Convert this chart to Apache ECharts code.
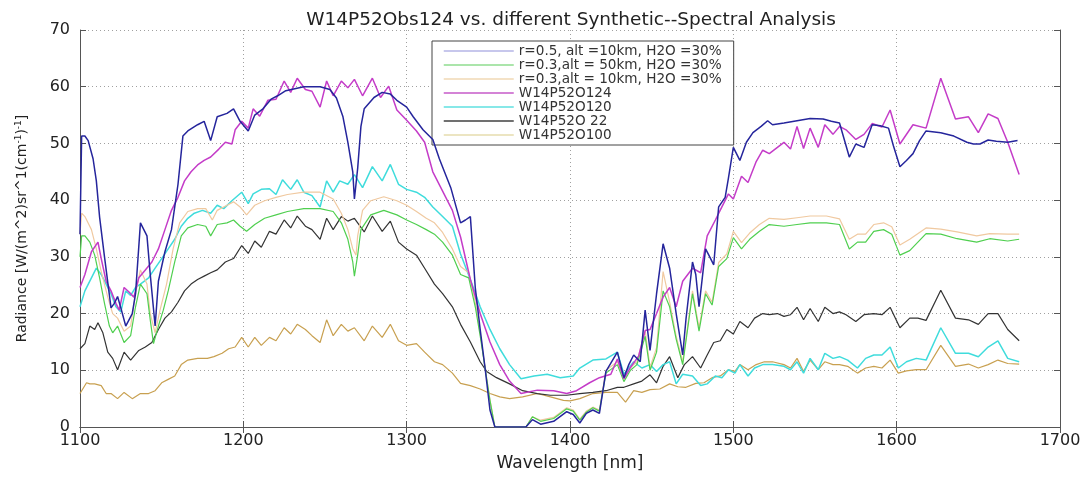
<!DOCTYPE html>
<html>
<head>
<meta charset="utf-8">
<script src="https://cdn.jsdelivr.net/npm/echarts@6/dist/echarts.min.js"></script>
<style>html,body{margin:0;padding:0;background:#fff;}#c{width:1089px;height:477px;}</style>
</head>
<body>
<div id="c"></div>
<script>
// ---- tick labels / axis ranges ----
const xTicks = [1100, 1200, 1300, 1400, 1500, 1600, 1700];
const yTicks = [0, 10, 20, 30, 40, 50, 60, 70];
const seriesNames = [
  'r=0.5, alt =10km, H2O =30%',
  'r=0.3,alt = 50km, H2O =30%',
  'r=0.3,alt = 10km, H2O =30%',
  'W14P52O124',
  'W14P52O120',
  'W14P52O 22',
  'W14P52O100'
];

// ---- r=0.5, alt=10km synthetic ----
const synA_x = [1100,1101,1103,1105,1108,1110,1112,1115,1119,1121,1123,1125,1128,1132,1134,1137,1141,1143,1146,1148,1152,1156,1160,1163,1166,1172,1176,1180,1184,1190,1194,1198,1203,1207,1212,1217,1221,1226,1237,1247,1253,1257,1261,1264,1267,1268,1270,1272,1274,1280,1285,1290,1294,1300,1304,1310,1316,1320,1327,1333,1336,1339,1342,1345,1348,1351,1354,1363,1373,1377,1382,1390,1398,1402,1406,1410,1414,1418,1422,1429,1433,1436,1439,1443,1446,1449,1453,1457,1461,1465,1469,1471,1475,1477,1479,1483,1485,1488,1491,1495,1497,1500,1504,1508,1512,1517,1521,1524,1531,1539,1547,1555,1560,1565,1571,1575,1580,1585,1590,1595,1598,1602,1606,1610,1614,1618,1627,1635,1643,1647,1651,1656,1661,1668,1674];
const synA_y = [34,51.3,51.3,50.5,47.3,43.4,37,30,21,21.8,23,21,17.8,20,23.5,36,33.7,26.9,17.8,25.7,30.9,34.8,42.8,51.3,52.2,53.3,53.9,50.5,54.7,55.3,56.1,53.9,52.2,55,56.1,57.8,58.4,59.3,60,60,59.5,58,54.7,50.2,45,40.2,45.6,53,56.1,58.1,59,58.7,57.6,56.4,54.7,52.4,50.7,47.3,42.2,36,36.5,37.1,24.6,17.2,10.4,3,0,0,0,1.3,0.5,1,2.7,2.2,0.7,2.4,3,2.4,9.8,13.2,8.7,11,12.7,11.5,20.6,13.5,23.5,32.3,28,20,12.7,19,29.1,26.9,21.2,31.4,30.3,28.6,38.8,40.5,43.9,49.3,47,50.2,51.9,53,54,53.3,53.6,54,54.4,54.3,53.9,53.6,47.6,49.9,49.3,53.3,53.1,52.7,49.6,45.9,47,48.2,50.5,52.2,51.9,51.3,50.2,49.9,49.9,50.6,50.4,50.2,50.5];

// ---- r=0.3, alt=50km synthetic ----
const synB_x = [1100,1101,1103,1106,1109,1112,1115,1118,1120,1123,1127,1131,1134,1137,1141,1143,1145,1148,1151,1154,1158,1162,1166,1172,1177,1180,1184,1190,1194,1198,1202,1207,1213,1220,1227,1237,1247,1255,1260,1264,1267,1268,1270,1272,1278,1286,1294,1300,1306,1312,1317,1322,1328,1333,1338,1342,1345,1348,1351,1354,1363,1373,1377,1382,1390,1398,1402,1406,1410,1414,1418,1422,1429,1433,1437,1441,1446,1449,1453,1457,1461,1465,1469,1475,1479,1483,1487,1491,1496,1500,1505,1510,1516,1522,1531,1539,1547,1557,1565,1571,1576,1581,1586,1592,1597,1602,1608,1618,1627,1637,1649,1657,1668,1675];
const synB_y = [30,33.7,33.7,32.6,30.3,26.3,21.8,17.8,16.6,17.8,14.9,16.1,21.2,25.2,23.5,18.9,14.7,17.8,20.6,24,29.1,33.7,35.1,35.7,35.4,33.7,35.7,36,36.5,35.4,34.5,35.7,36.8,37.4,38,38.5,38.5,38,36,33.1,29.1,26.6,30.3,34.8,37.4,38.2,37.4,36.5,35.7,34.8,34,32.6,30.3,26.9,26.3,21.2,16.1,10.4,4.7,0,0,0,1.8,1,1.5,3.2,2.8,1.2,2.6,3.4,2.8,9.5,11,8,10,11,16,10,13.2,24,21.2,15.5,11,23.5,16.9,23.5,21.5,28.3,29.7,33.4,31.4,33.1,34.5,35.7,35.4,35.7,36,36,35.7,31.4,32.6,32.6,34.5,34.8,34,30.3,31.1,34.1,34,33.2,32.6,33.2,32.8,33.1];

// ---- r=0.3, alt=10km synthetic ----
const synC_x = [1100,1101,1103,1107,1110,1113,1117,1120,1123,1127,1131,1134,1137,1141,1143,1146,1149,1153,1157,1161,1166,1172,1177,1181,1184,1190,1194,1198,1202,1207,1213,1220,1227,1237,1247,1255,1260,1264,1267,1269,1270,1273,1278,1286,1294,1300,1306,1312,1317,1322,1328,1333,1338,1342,1345,1348,1351,1354,1363,1373,1377,1382,1390,1398,1402,1406,1410,1414,1418,1422,1429,1433,1437,1441,1446,1449,1453,1457,1461,1465,1469,1475,1479,1483,1487,1491,1496,1500,1505,1510,1516,1522,1531,1539,1547,1557,1565,1571,1576,1581,1586,1592,1597,1602,1608,1618,1627,1637,1649,1657,1668,1675];
const synC_y = [34,37.7,37.1,34.8,31.4,27.4,22.9,20,19.2,16.9,17.8,23.5,27.7,25.2,20,16.6,20.6,25.2,31.4,36,38,38.5,38.5,36.5,38.2,39.1,39.7,38.8,37.4,39.1,39.9,40.5,41,41.4,41.4,40.2,37.7,34.8,31.4,30.3,33.7,38.2,39.9,40.6,39.9,39.1,38,36.8,36,34.3,31.4,28.3,27.2,22,16.5,10.5,4.8,0,0,0,1.8,1.2,1.7,3.4,3,1.4,2.8,3.5,3,10,11.5,8.5,10.5,11.5,17,10.5,14,27.4,22,16,11.5,24,17.5,24,22,29,30.5,34.5,32.5,34.2,35.7,36.8,36.6,36.9,37.2,37.2,36.7,33.1,34,34,35.7,36,35.3,32.1,33.1,35.1,34.9,34.4,33.7,34.1,34,34];

// ---- W14P52O124 ----
const o124_x = [1100,1103,1107,1111,1113,1116,1119,1122,1124,1127,1130,1133,1136,1140,1144,1148,1152,1156,1160,1164,1168,1172,1176,1180,1185,1189,1193,1195,1199,1203,1206,1210,1215,1220,1225,1229,1233,1238,1242,1247,1251,1255,1260,1264,1268,1273,1279,1284,1289,1294,1300,1306,1311,1316,1322,1328,1333,1339,1345,1351,1357,1363,1370,1380,1390,1398,1404,1412,1418,1425,1429,1433,1437,1442,1446,1449,1453,1457,1461,1465,1469,1475,1480,1484,1489,1493,1497,1500,1505,1509,1514,1518,1522,1527,1531,1535,1539,1543,1547,1552,1556,1561,1565,1569,1575,1580,1585,1591,1596,1602,1610,1618,1627,1636,1644,1650,1656,1662,1668,1675];
const o124_y = [24.6,26.9,30.9,32.6,29.7,25.7,24,21.8,20.6,24.6,23.8,22.9,26.3,27.7,29.1,31.4,34.8,38.2,40.5,43.4,45,46.2,47,47.6,49,50.2,49.9,52.4,53.9,52.7,56.1,54.8,57.6,57.8,61,59,61.5,59.5,59.2,56.4,61,58.4,61,59.8,61.3,58.4,61.5,58.1,60.1,55.9,54.1,52.2,50.2,45,41.6,38.2,33.5,26,20,15,11,8.1,5.9,6.5,6.4,5.9,6.4,7.8,8.7,9.3,12,8.5,10.5,12.5,17,17.2,20,22.9,24.6,21.2,25.7,28,27.2,33.7,36.5,38.8,41.1,40.2,44.2,43.1,46.8,48.8,48.2,49.3,50.2,49,53,49.1,52.7,49.3,53.3,51.6,53,52.4,50.7,51.6,53.5,52.9,55.9,49.9,53.3,52.7,61.5,54.3,54.7,51.9,55.2,54.4,50.2,44.5];

// ---- W14P52O120 ----
const o120_x = [1100,1103,1107,1110,1113,1116,1119,1122,1125,1128,1131,1134,1137,1142,1146,1150,1154,1158,1162,1166,1170,1175,1180,1184,1188,1193,1199,1203,1206,1211,1216,1220,1224,1229,1233,1237,1242,1247,1251,1255,1259,1264,1268,1273,1279,1285,1290,1295,1300,1306,1311,1316,1322,1328,1333,1339,1345,1351,1357,1363,1370,1378,1386,1394,1402,1406,1414,1422,1429,1433,1439,1444,1449,1453,1457,1461,1465,1469,1475,1480,1484,1489,1493,1497,1501,1504,1509,1513,1518,1524,1531,1535,1539,1543,1547,1552,1556,1561,1565,1570,1576,1581,1586,1591,1596,1601,1606,1612,1618,1627,1636,1644,1650,1656,1662,1668,1675];
const o120_y = [21.2,24,26.3,28,26.9,25.2,23.5,21.2,20.3,24,23.2,24.6,25.2,26.3,28,29.7,31.4,33.1,35.4,36.8,37.7,38.2,37.7,39.1,38.5,39.9,41.4,39.4,41.1,41.9,42,41,43.6,41.9,43.6,41.4,40.8,38.8,43.4,41.4,43.4,42.8,44.5,42.2,45.9,43.4,46.3,42.8,41.9,41.4,40.5,38.8,37.1,35.4,30.5,26,21.2,17.2,13.8,11,8.5,9,9.3,8.7,9,10.4,11.8,12,13.2,9.3,11.5,10.4,11,9.8,11,11.5,7.6,9.3,9,7.3,7.6,9,8.7,10.1,9.5,11,9,10.4,11,11,10.7,10.1,11.5,9.5,12.1,10.1,13,12.1,12.4,11.8,10.4,12.1,12.7,12.7,14.1,10.4,11.5,12.1,11.8,17.5,13,13,12.4,14.1,15.2,12.1,11.5];

// ---- W14P52O 22 ----
const o22_x = [1100,1103,1106,1109,1111,1114,1117,1120,1123,1127,1131,1136,1140,1144,1148,1152,1156,1160,1164,1168,1172,1176,1180,1184,1189,1194,1199,1203,1207,1211,1216,1220,1225,1229,1233,1238,1242,1247,1251,1255,1260,1264,1268,1274,1279,1285,1290,1295,1300,1306,1311,1317,1322,1328,1333,1339,1345,1349,1355,1363,1371,1380,1388,1398,1406,1414,1422,1429,1433,1439,1444,1449,1453,1457,1461,1466,1470,1475,1480,1484,1488,1492,1496,1500,1504,1509,1513,1518,1522,1527,1531,1535,1539,1543,1547,1552,1556,1561,1565,1569,1575,1580,1586,1591,1596,1602,1608,1613,1618,1627,1636,1644,1650,1656,1662,1668,1675];
const o22_y = [13.8,14.7,17.8,17.2,18.4,16.6,13.2,12.1,10.1,13.2,11.8,13.5,14.1,14.9,17.2,19.2,20.3,22,24,25.2,26,26.6,27.2,27.7,29.1,29.7,32,30.6,32.8,31.7,34.5,34,36.5,35.1,37.2,35.4,34.8,33.1,36.8,34.8,37.1,36.3,36.8,34.4,37.2,34.5,36.3,32.6,31.4,30.3,28,25.2,23.5,21.2,18.1,15,11.5,9.8,8.7,7.6,6.4,5.9,5.6,5.6,5.9,6.1,6.4,7,7,7.6,8.1,9.2,7.8,10.7,12.4,8.7,11,12.4,10.4,12.7,14.9,15.2,17.2,16.4,18.6,17.5,19.2,20,19.8,20,19.5,19.8,21.1,18.9,20.9,18.6,21.1,20,20.3,19.8,18.6,19.8,20,19.8,21.1,17.5,19.2,19.2,18.8,24.1,19.2,18.9,18.1,20,20,17.2,15.2];

// ---- W14P52O100 ----
const o100_x = [1100,1104,1106,1109,1113,1116,1119,1123,1127,1132,1137,1142,1146,1150,1154,1158,1162,1166,1172,1178,1182,1187,1191,1195,1199,1203,1207,1211,1216,1220,1225,1229,1233,1238,1242,1247,1251,1255,1260,1264,1268,1274,1279,1285,1290,1295,1300,1306,1311,1317,1322,1328,1333,1339,1345,1351,1357,1363,1371,1380,1388,1396,1400,1406,1414,1422,1429,1434,1439,1444,1449,1455,1461,1466,1471,1477,1482,1487,1492,1497,1501,1504,1509,1514,1519,1524,1531,1535,1539,1543,1547,1552,1556,1561,1565,1570,1576,1581,1586,1591,1596,1601,1606,1612,1618,1627,1636,1644,1650,1656,1662,1668,1675];
const o100_y = [5.9,7.8,7.6,7.6,7.3,5.9,5.9,5,6.1,5,5.9,5.9,6.4,7.8,8.4,9,11,11.8,12.1,12.1,12.4,13,13.8,14.1,15.8,14.1,15.8,14.4,15.8,15.2,17.5,16.4,18.1,17.2,16.1,14.9,18.9,16.1,18.1,16.9,17.5,15.2,17.8,15.8,18.1,15.2,14.4,14.7,13.2,11.5,11,9.5,7.7,7.3,6.7,5.9,5.3,5,5.3,5.9,5.3,4.7,4.6,5,5.9,6.1,6.1,4.4,6.4,6.1,6.6,6.7,7.6,7.1,7,7.7,7.8,8.7,9,10.1,9.8,11,10.1,11,11.5,11.5,11,10.4,12.1,9.8,11.8,10.1,11.5,11,11,10.7,9.5,10.4,10.7,10.4,11.8,9.5,9.9,10.1,10.1,14.4,10.7,11.1,10.4,11,11.8,11.2,11.1];

// ---- styling ----
const lineColors = ['#25259c', '#4fcf4f', '#f0c9a0', '#c43cc8', '#3fdcdc', '#333333', '#c8a050'];
const legendColors = ['#b4b4e6', '#8fdc8f', '#f0d9b5', '#c65ac9', '#5fe0e0', '#404040', '#e6dcae'];
const xs = [synA_x, synB_x, synC_x, o124_x, o120_x, o22_x, o100_x];
const ys = [synA_y, synB_y, synC_y, o124_y, o120_y, o22_y, o100_y];
const drawOrder = [6, 5, 4, 2, 1, 3, 0];

const FONT = 'DejaVu Sans';
const chart = echarts.init(document.getElementById('c'), null, {renderer: 'canvas'});

const series = drawOrder.map(i => ({
  name: seriesNames[i],
  type: 'line',
  xAxisIndex: 0,
  yAxisIndex: 0,
  symbol: 'none',
  silent: true,
  animation: false,
  z: 2 + drawOrder.indexOf(i),
  lineStyle: {color: lineColors[i], width: (i === 0 || i === 3 || i === 4) ? 1.5 : 1.2},
  itemStyle: {color: lineColors[i]},
  data: xs[i].map((x, k) => [x, ys[i][k]])
}));

const axisLineStyle = {color: '#555', width: 1};
const gridLine = {show: true, lineStyle: {color: '#a0a0a0', type: [1, 3], width: 1}};

chart.setOption({
  backgroundColor: '#fff',
  animation: false,
  title: {
    text: 'W14P52Obs124 vs. different Synthetic--Spectral Analysis',
    left: 566, top: 6, textAlign: 'center',
    textStyle: {fontFamily: FONT, fontSize: 18.5, fontWeight: 'normal', color: '#222'}
  },
  legend: {
    orient: 'vertical',
    left: 432, top: 41,
    padding: [3, 12, 3, 11],
    itemGap: 0,
    itemWidth: 70, itemHeight: 8,
    borderColor: '#444', borderWidth: 1,
    backgroundColor: '#fff',
    selectedMode: false,
    textStyle: {fontFamily: FONT, fontSize: 13.6, color: '#333', lineHeight: 12.8},
    data: seriesNames.map((n, i) => ({
      name: n,
      itemStyle: {color: legendColors[i], opacity: 0},
      lineStyle: {color: legendColors[i], width: 1.5, opacity: 1}
    }))
  },
  grid: {left: 80, right: 29, top: 30, bottom: 36, containLabel: false},
  xAxis: [{
    type: 'value', min: xTicks[0], max: xTicks[xTicks.length - 1], interval: 100,
    position: 'bottom',
    name: 'Wavelength [nm]', nameLocation: 'middle', nameGap: 28,
    nameTextStyle: {fontFamily: FONT, fontSize: 17, color: '#222'},
    axisLine: {show: true, lineStyle: axisLineStyle},
    axisTick: {show: true, inside: true, length: 6, lineStyle: axisLineStyle},
    axisLabel: {fontFamily: FONT, fontSize: 16, color: '#222', margin: 6, formatter: v => String(v)},
    splitLine: gridLine
  }, {
    type: 'value', min: xTicks[0], max: xTicks[xTicks.length - 1], interval: 100,
    position: 'top',
    axisLine: {show: true, lineStyle: axisLineStyle},
    axisTick: {show: true, inside: true, length: 6, lineStyle: axisLineStyle},
    axisLabel: {show: false},
    splitLine: {show: false}
  }],
  yAxis: [{
    type: 'value', min: yTicks[0], max: yTicks[yTicks.length - 1], interval: 10,
    position: 'left',
    name: '{a|Radiance [W/(m^2)sr^1(cm}{s|-1}{a|)}{s|-1}{a|]}',
    nameLocation: 'middle', nameGap: 50, nameRotate: 90,
    nameTextStyle: {
      fontFamily: FONT, fontSize: 14, color: '#222',
      rich: {
        a: {fontFamily: FONT, fontSize: 14, color: '#222'},
        s: {fontFamily: FONT, fontSize: 9, color: '#222', verticalAlign: 'top', padding: [0, 0, 7, 0]}
      }
    },
    axisLine: {show: true, lineStyle: axisLineStyle},
    axisTick: {show: true, inside: true, length: 6, lineStyle: axisLineStyle},
    axisLabel: {fontFamily: FONT, fontSize: 16, color: '#222', margin: 10, formatter: v => String(v)},
    splitLine: gridLine
  }, {
    type: 'value', min: yTicks[0], max: yTicks[yTicks.length - 1], interval: 10,
    position: 'right',
    axisLine: {show: true, lineStyle: axisLineStyle},
    axisTick: {show: true, inside: true, length: 6, lineStyle: axisLineStyle},
    axisLabel: {show: false},
    splitLine: {show: false}
  }],
  series: series
});
</script>
</body>
</html>
